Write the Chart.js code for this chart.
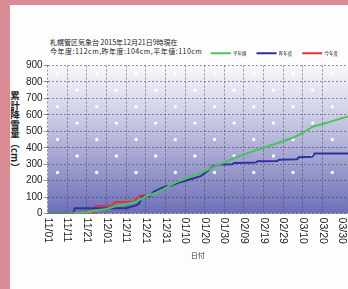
<!DOCTYPE html>
<html>
<head>
<meta charset="utf-8">
<script src="https://cdn.jsdelivr.net/npm/chart.js@4"></script>
<style>
  body { margin: 0; width: 348px; height: 289px; overflow: hidden; position: relative; background: #d98a92; }
  .paper { position: absolute; left: 10px; top: 5px; right: 0; bottom: 0; background: #fdfdfd; }
  .ttl { position: absolute; left: 50px; font-family: "Noto Sans CJK JP", sans-serif; font-size: 7px; color: #222; white-space: nowrap; line-height: 8px; }
  .ytitle { position: absolute; left: 9px; top: 91px; writing-mode: vertical-rl; font-family: "Noto Sans CJK JP", sans-serif; font-size: 9.5px; font-weight: bold; color: #222; line-height: 11px; }
  canvas { position: absolute; left: 0; top: 0; }
</style>
</head>
<body>
<div class="paper"></div>
<div class="ttl" style="top:38px">札幌管区気象台 2015年12月21日9時現在</div>
<div class="ttl" style="top:47px; letter-spacing:0.5px">今年度:112cm,昨年度:104cm,平年値:110cm</div>
<div class="ytitle">累計降雪量（cm）</div>
<canvas id="myChart" width="348" height="289"></canvas>
<script>
const ctx = document.getElementById('myChart');

// days counted from 11/01
const xTickLabels = ['11/01','11/11','11/21','12/01','12/11','12/21','12/31','01/10',
  '01/20','01/30','02/09','02/19','02/29','03/10','03/20','03/30'];
const seriesNames = ['平年値', '昨年度', '今年度'];

const normalDays = [0,10,15,20,25,30,35,40,45,50,55,60,65,70,75,80,85,90,95,100,105,110,115,120,125,130,135,140,145,150,153];
const normalSnow = [0,0,4,8,20,28,48,57,72,105,125,155,188,212,235,257,285,312,338,360,380,400,420,440,462,490,528,545,562,580,590];

const lastDays = [0,13,13.8,23,40,42,45,46.5,48,52,54,57,60,63,66,70,75,78,81,84,88,94,95,106,107,117,118,127,128,135,136,153];
const lastSnow = [0,0,32,32,33,40,50,60,102,106,133,150,165,170,186,200,216,228,255,285,298,300,308,310,318,320,328,330,342,345,365,365];

const thisDays = [0,24,24.5,32.5,33.5,35,44,45,46.5,48,49.5];
const thisSnow = [0,0,47,48,63,70,72,88,105,110,112];

function toPoints(days, vals){
    return days.map((d, i) => ({x: d, y: vals[i]}));
}

// gradient + snow dots behind the grid
const plotBack = {
    id: 'plotBack',
    beforeDraw(chart){
        const a = chart.chartArea;
        const c = chart.ctx;
        const g = c.createLinearGradient(0, a.top, 0, a.bottom);
        g.addColorStop(0, '#f8f8fc');
        g.addColorStop(0.3, '#d2d2e9');
        g.addColorStop(1, '#6d6fb6');
        c.save();
        c.fillStyle = g;
        c.fillRect(a.left, a.top, a.right - a.left, a.bottom - a.top);
        const xs = chart.scales.x, ys = chart.scales.y;
        c.fillStyle = 'rgba(255,255,255,0.95)';
        for(let r = 0; r < 7; r++){
            const cy = ys.getPixelForValue(850 - r * 100);
            for(let col = 0; col < 16; col++){
                if((r + col) % 2 != 0) continue;
                const cx = xs.getPixelForValue(col * 10 + 5);
                if(cx > a.right) continue;
                c.beginPath();
                c.arc(cx, cy, 1.7, 0, Math.PI * 2);
                c.fill();
            }
        }
        c.restore();
    }
};

// x tick labels read top to bottom
const xLabels = {
    id: 'xLabels',
    afterDraw(chart){
        const xs = chart.scales.x;
        const c = chart.ctx;
        c.save();
        c.font = '10.5px "Liberation Sans", Arial, sans-serif';
        c.fillStyle = '#222';
        c.textAlign = 'left';
        c.textBaseline = 'middle';
        xTickLabels.forEach((lab, i) => {
            c.save();
            c.translate(xs.getPixelForValue(i * 10), chart.chartArea.bottom + 4);
            c.rotate(Math.PI / 2);
            c.fillText(lab, 0, 0);
            c.restore();
        });
        c.restore();
    }
};

const gridStyle = {
    color: 'rgba(60,60,85,0.55)',
    lineWidth: 1
};

new Chart(ctx, {
    type: 'line',
    data: {
        datasets: [{
            label: seriesNames[0],
            data: toPoints(normalDays, normalSnow),
            borderColor: '#4cc25a',
            backgroundColor: '#4cc25a',
            borderWidth: 2
        }, {
            label: seriesNames[1],
            data: toPoints(lastDays, lastSnow),
            borderColor: '#2b33a0',
            backgroundColor: '#2b33a0',
            borderWidth: 2
        }, {
            label: seriesNames[2],
            data: toPoints(thisDays, thisSnow),
            borderColor: '#e0303c',
            backgroundColor: '#e0303c',
            borderWidth: 2
        }]
    },
    options: {
        responsive: false,
        animation: false,
        devicePixelRatio: 1,
        elements: { point: { radius: 0 }, line: { tension: 0 } },
        layout: { padding: { left: 25, top: 41, right: 0, bottom: 29 } },
        plugins: {
            tooltip: { enabled: false },
            legend: {
                position: 'top',
                align: 'end',
                labels: {
                    usePointStyle: true,
                    pointStyle: 'line',
                    pointStyleWidth: 20,
                    boxHeight: 4,
                    padding: 10,
                    color: '#222',
                    font: { size: 4.5, family: '"Noto Sans CJK JP", sans-serif' }
                }
            }
        },
        scales: {
            x: {
                type: 'linear',
                min: 0,
                max: 153,
                ticks: { display: false, stepSize: 10 },
                grid: Object.assign({ drawTicks: false }, gridStyle),
                border: { display: false, dash: [2, 2] },
                title: {
                    display: true,
                    text: '日付',
                    color: '#333',
                    font: { size: 7, family: '"Noto Sans CJK JP", sans-serif' },
                    padding: { top: 38, bottom: 0 }
                }
            },
            y: {
                min: 0,
                max: 900,
                ticks: {
                    stepSize: 100,
                    padding: 1,
                    color: '#222',
                    font: { size: 10, family: '"Liberation Sans", Arial, sans-serif' }
                },
                grid: Object.assign({ drawTicks: true, tickLength: 4 }, gridStyle),
                border: { display: false, dash: [2, 2] }
            }
        }
    },
    plugins: [plotBack, xLabels]
});
</script>
</body>
</html>
